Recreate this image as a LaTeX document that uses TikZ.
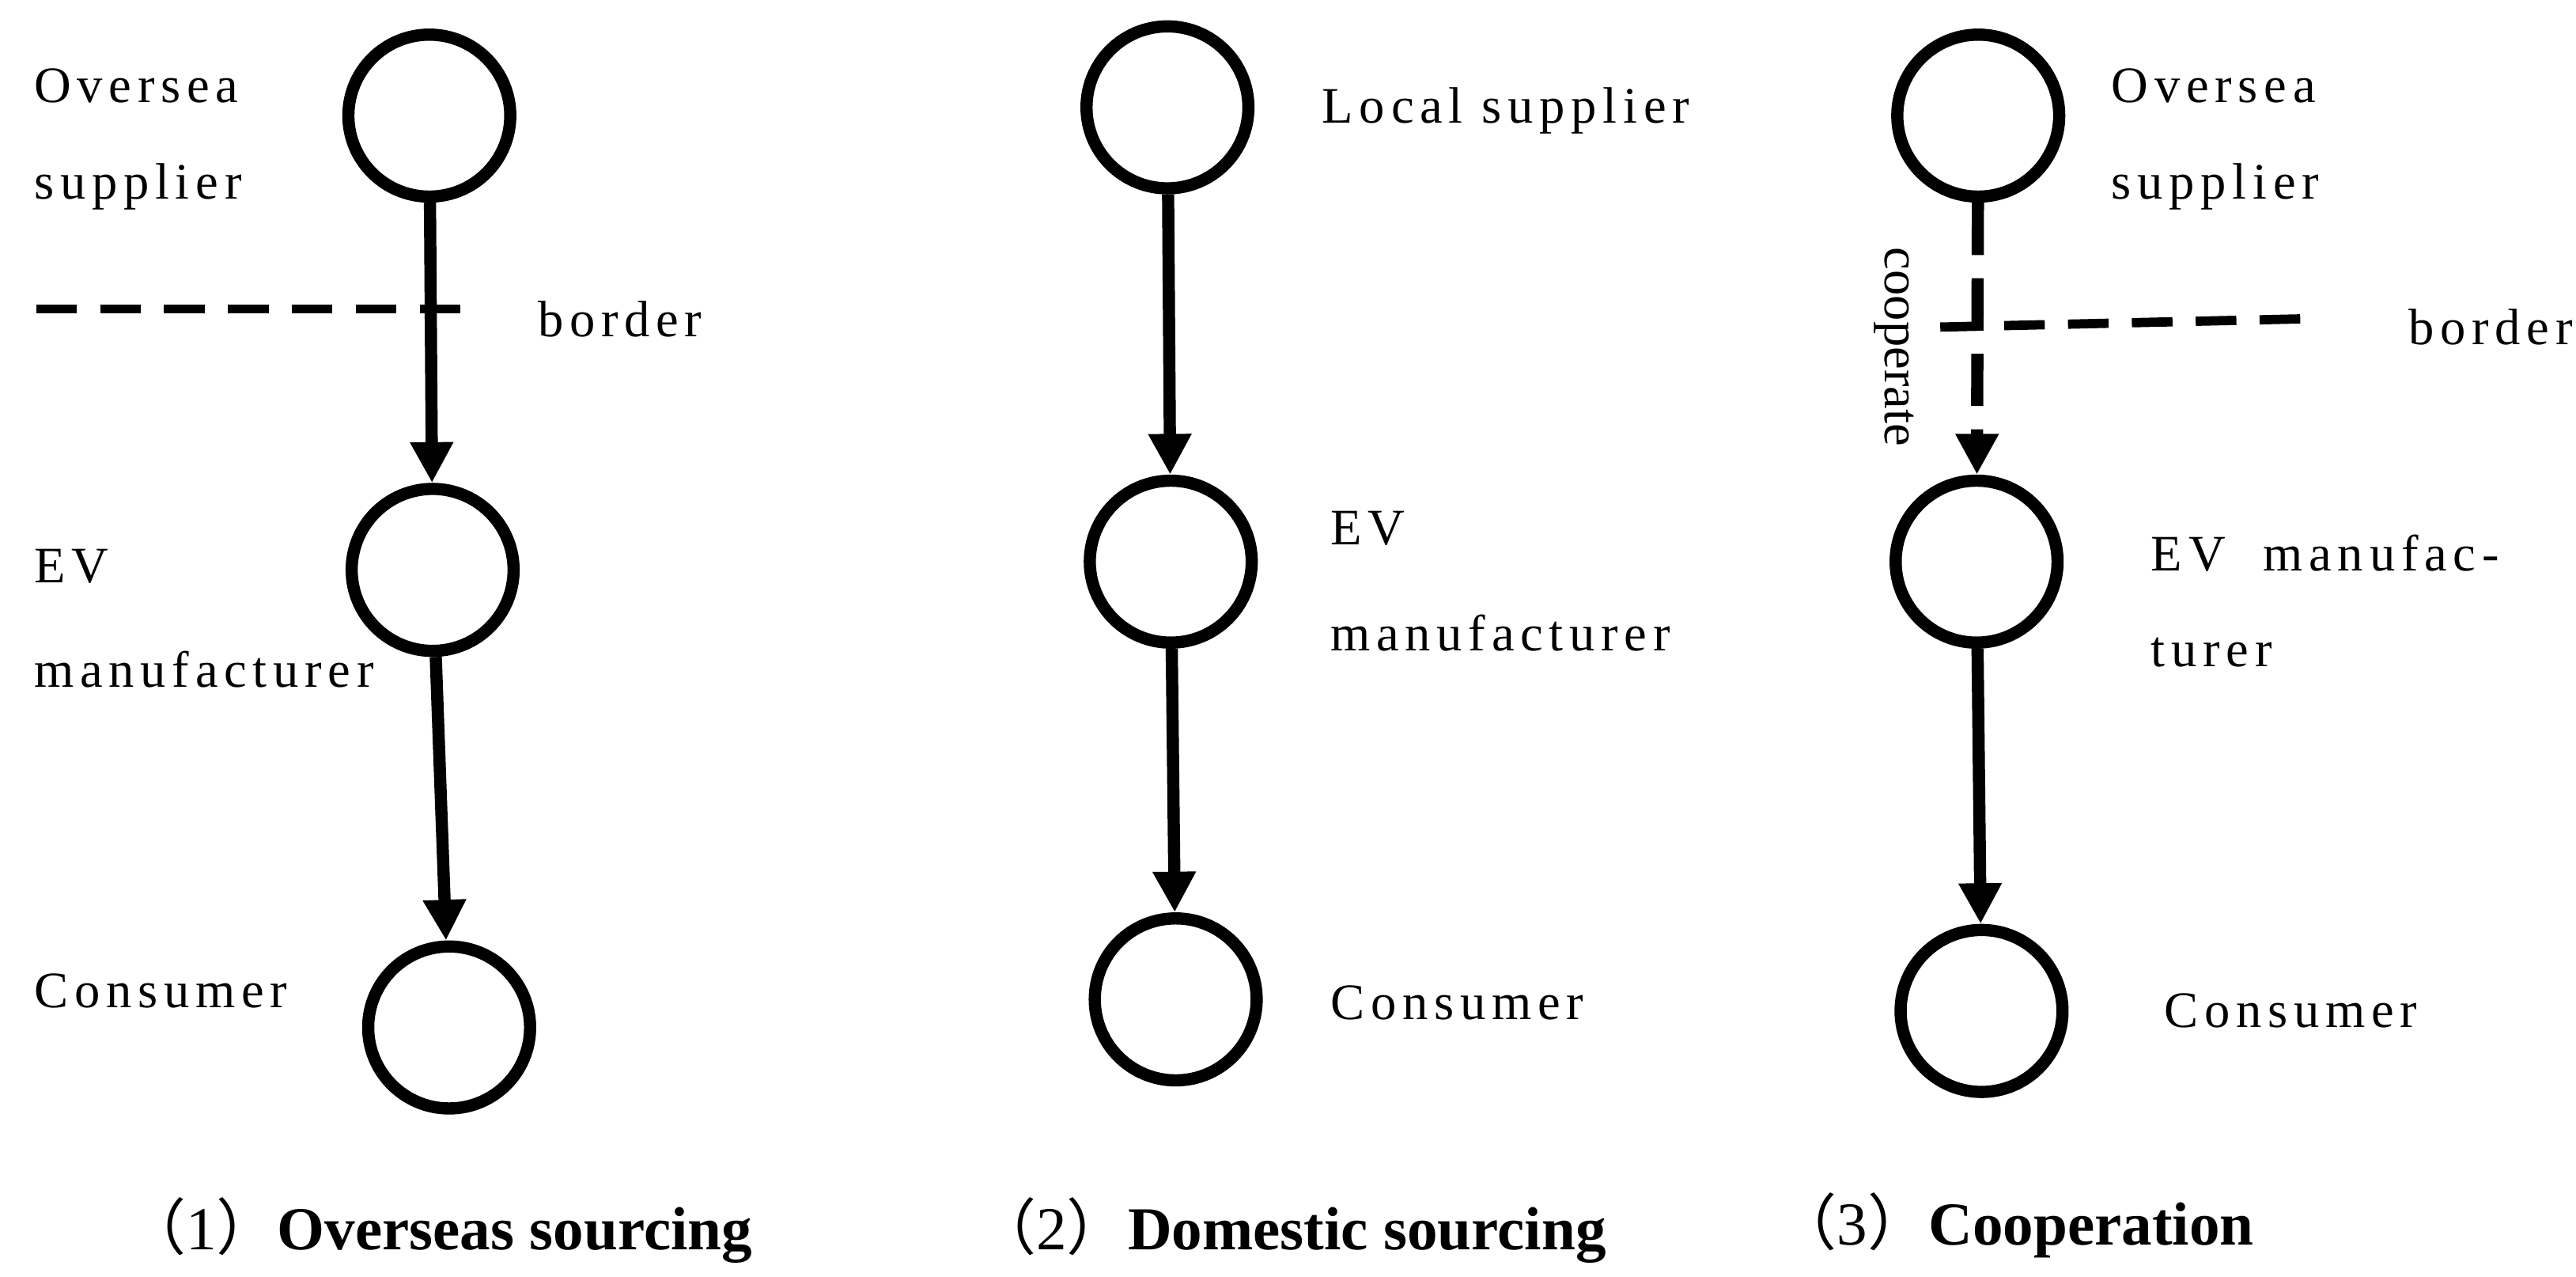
\documentclass[tikz,border=0pt]{standalone}
\usepackage{fontspec}
\setmainfont{Liberation Serif}
\newfontfamily\cjk{Noto Sans CJK SC}
\newfontfamily\wide[LetterSpace=12]{Liberation Serif}
\usetikzlibrary{arrows.meta}
\begin{document}
\begin{tikzpicture}[x=0.01cm,y=-0.01cm,
  nd/.style={circle,draw,line width=2.1pt,minimum size=0.98cm,inner sep=0pt},
  lb/.style={anchor=west,font=\wide\fontsize{8.8pt}{10pt}\selectfont,inner sep=0pt},
  captxt/.style={anchor=west,font=\fontsize{10.5pt}{12pt}\selectfont,inner sep=0pt},
  ar/.style={line width=2.1pt,-{Triangle[length=7pt,width=7pt]}},
  bd/.style={line width=1.6pt,dash pattern=on 7pt off 4pt}]
\useasboundingbox (0,0) rectangle (1560,773);
% panel 1
\node[nd] (a1) at (260,70) {};
\node[nd] (b1) at (262,345) {};
\node[nd] (c1) at (272,622) {};
\draw[ar] (a1) -- (b1);
\draw[ar] (b1) -- (c1);
\coordinate (d1s) at (22,187); \coordinate (d1e) at (285,187);
\draw[bd] (d1s) -- (d1e);
\node[lb] (t1a) at (20,52) {Oversea};
\node[lb] (t1b) at (20,113) {supplier};
\node[lb] (t1c) at (325,193) {border};
\node[lb] (t1d) at (20,343) {EV};
\node[lb] (t1e) at (20,405) {manufacturer};
\node[lb] (t1f) at (20,600) {Consumer};
% panel 2
\node[nd] (a2) at (707,65) {};
\node[nd] (b2) at (709,340) {};
\node[nd] (c2) at (712,605) {};
\draw[ar] (a2) -- (b2);
\draw[ar] (b2) -- (c2);
\node[lb] (t2a) at (800,67) {Local supplier};
\node[lb] (t2b) at (805,320) {EV};
\node[lb] (t2c) at (805,383) {manufacturer};
\node[lb] (t2d) at (805,607) {Consumer};
% panel 3
\node[nd] (a3) at (1198,70) {};
\node[nd] (b3) at (1197,340) {};
\node[nd] (c3) at (1200,612) {};
\draw[ar,dash pattern=on 9pt off 4pt] (a3) -- (b3);
\draw[ar] (b3) -- (c3);
\coordinate (d3s) at (1175,198); \coordinate (d3e) at (1395,193);
\draw[bd] (d3s) -- (d3e);
\node[lb] (t3a) at (1278,52) {Oversea};
\node[lb] (t3b) at (1278,113) {supplier};
\node[lb,anchor=center,rotate=-90,font=\fontsize{8.8pt}{10pt}\selectfont] (t3c) at (1147,210) {cooperate};
\node[lb] (t3d) at (1458,198) {border};
\node[lb] (t3e) at (1302,335) {EV\ \ manufac-};
\node[lb] (t3f) at (1302,395) {turer};
\node[lb] (t3g) at (1310,612) {Consumer};
% captions
\node[captxt] (k1) at (75,745) {{\cjk （}1{\cjk ）}\textbf{Overseas sourcing}};
\node[captxt] (k2) at (590,745) {{\cjk （}2{\cjk ）}\textbf{Domestic sourcing}};
\node[captxt] (k3) at (1075,742) {{\cjk （}3{\cjk ）}\textbf{Cooperation}};
\end{tikzpicture}
\end{document}
